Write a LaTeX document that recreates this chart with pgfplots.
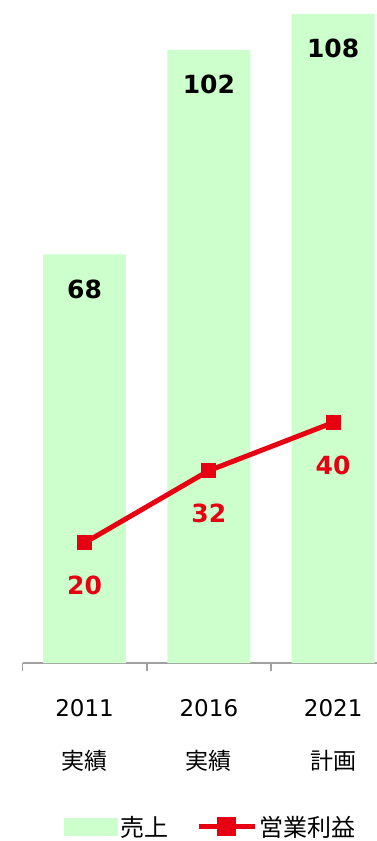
\documentclass[border=0pt]{standalone}
\usepackage{pgfplots}
\pgfplotsset{compat=1.18}
\usepackage{fontspec}
\setmainfont{DejaVu Sans}
\newfontfamily\cjk{Noto Sans CJK JP}
\definecolor{barGreen}{HTML}{CCFFCC}
\definecolor{lineRed}{HTML}{E60012}
\definecolor{axGray}{HTML}{A0A0A0}
\begin{document}
\begin{tikzpicture}
\useasboundingbox (0pt,0pt) rectangle (377pt,841pt);
\begin{axis}[
  at={(22.5pt,178pt)}, anchor=south west,
  scale only axis, width=354.5pt, height=663pt,
  xmin=-0.5, xmax=2.353, ymin=0, ymax=110.3,
  enlargelimits=false, clip=false,
  axis x line=bottom, axis y line=none,
  x axis line style={-, draw=axGray, line width=1.5pt},
  /pgf/number format/assume math mode=true,
  xtick={0,1,2},
  xticklabels={{2011\\{\cjk 実績}},{2016\\{\cjk 実績}},{2021\\{\cjk 計画}}},
  xticklabel style={align=center, anchor=north, yshift=-31pt, font=\fontsize{23}{53}\selectfont},
  major x tick style={draw=none},
  extra x ticks={-0.5,0.5,1.5},
  extra x tick labels={},
  extra x tick style={major tick length=8pt, tick align=outside, major x tick style={draw=axGray, line width=1.5pt}},
  legend columns=2,
  legend style={at={(rel axis cs:0.531,-0.247)}, anchor=center, draw=none, fill=none,
    font=\fontsize{24}{28}\selectfont\cjk,
    /tikz/every even column/.append style={column sep=26pt}},
]
\addplot[ybar, bar width=83pt, fill=barGreen, draw=none,
  nodes near coords,
  nodes near coords style={anchor=center, yshift=-35pt, text=black, font=\fontsize{25}{30}\selectfont\bfseries},
  legend image code/.code={\fill[barGreen] (0pt,-9pt) rectangle (54pt,9pt);}]
  coordinates {(0,68) (1,102) (2,108)};
\addlegendentry{売上}
\addplot[lineRed, line width=5pt, mark=square*, mark size=7pt, mark options={solid, line width=0pt},
  nodes near coords,
  nodes near coords style={anchor=center, yshift=-43pt, text=lineRed, font=\fontsize{25}{30}\selectfont\bfseries},
  legend image code/.code={\draw[lineRed, line width=5pt] (0pt,0pt) -- (56pt,0pt);
    \fill[lineRed] (21pt,-7pt) rectangle (35pt,7pt);}]
  coordinates {(0,20) (1,32) (2,40)};
\addlegendentry{営業利益}
\end{axis}
\end{tikzpicture}
\end{document}
